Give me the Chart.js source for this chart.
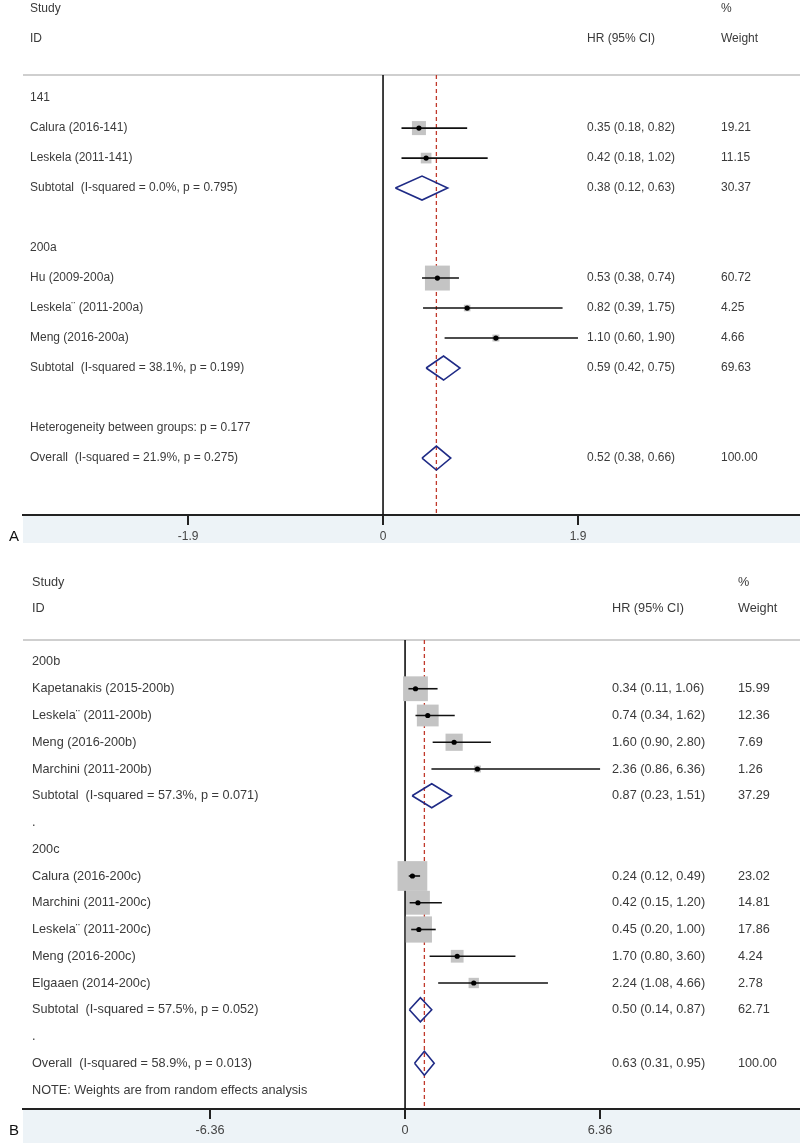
<!DOCTYPE html>
<html>
<head>
<meta charset="utf-8">
<script src="https://cdn.jsdelivr.net/npm/chart.js@4.4.1/dist/chart.umd.min.js"></script>
<style>
  html, body { margin: 0; padding: 0; background: #fff; overflow: hidden; }
  #wrapA { position: absolute; left: 0; top: 0; width: 800px; height: 548px; }
  #wrapB { position: absolute; left: 0; top: 548px; width: 800px; height: 600px; }
</style>
</head>
<body>
<div id="wrapA"><canvas id="chartA"></canvas></div>
<div id="wrapB"><canvas id="chartB"></canvas></div>
<script>
// Panel A data
const rowsA = ['141', 'Calura (2016-141)', 'Leskela (2011-141)', 'Subtotal  (I-squared = 0.0%, p = 0.795)', '',
  '200a', 'Hu (2009-200a)', 'Leskela\u00A8 (2011-200a)', 'Meng (2016-200a)', 'Subtotal  (I-squared = 38.1%, p = 0.199)', '',
  'Heterogeneity between groups: p = 0.177', 'Overall  (I-squared = 21.9%, p = 0.275)'];
const kindA = ['head', 'study', 'study', 'pool', 'blank', 'head', 'study', 'study', 'study', 'pool', 'blank', 'note', 'overall'];
const hrA = [null, 0.35, 0.42, 0.38, null, null, 0.53, 0.82, 1.10, 0.59, null, null, 0.52];
const loA = [null, 0.18, 0.18, 0.12, null, null, 0.38, 0.39, 0.60, 0.42, null, null, 0.38];
const hiA = [null, 0.82, 1.02, 0.63, null, null, 0.74, 1.75, 1.90, 0.75, null, null, 0.66];
const weightA = [null, 19.21, 11.15, 30.37, null, null, 60.72, 4.25, 4.66, 69.63, null, null, 100.00];
const ticksA = [-1.9, 0, 1.9];

// Panel B data
const rowsB = ['200b', 'Kapetanakis (2015-200b)', 'Leskela\u00A8 (2011-200b)', 'Meng (2016-200b)', 'Marchini (2011-200b)',
  'Subtotal  (I-squared = 57.3%, p = 0.071)', '.', '200c', 'Calura (2016-200c)', 'Marchini (2011-200c)',
  'Leskela\u00A8 (2011-200c)', 'Meng (2016-200c)', 'Elgaaen (2014-200c)', 'Subtotal  (I-squared = 57.5%, p = 0.052)', '.',
  'Overall  (I-squared = 58.9%, p = 0.013)', 'NOTE: Weights are from random effects analysis'];
const kindB = ['head', 'study', 'study', 'study', 'study', 'pool', 'dot', 'head', 'study', 'study', 'study', 'study', 'study', 'pool', 'dot', 'overall', 'note'];
const hrB = [null, 0.34, 0.74, 1.60, 2.36, 0.87, null, null, 0.24, 0.42, 0.45, 1.70, 2.24, 0.50, null, 0.63, null];
const loB = [null, 0.11, 0.34, 0.90, 0.86, 0.23, null, null, 0.12, 0.15, 0.20, 0.80, 1.08, 0.14, null, 0.31, null];
const hiB = [null, 1.06, 1.62, 2.80, 6.36, 1.51, null, null, 0.49, 1.20, 1.00, 3.60, 4.66, 0.87, null, 0.95, null];
const weightB = [null, 15.99, 12.36, 7.69, 1.26, 37.29, null, null, 23.02, 14.81, 17.86, 4.24, 2.78, 62.71, null, 100.00, null];
const ticksB = [-6.36, 0, 6.36];

const FONT = '"Liberation Sans", Arial, sans-serif';
const INK = '#3a3a3a';
const NAVY = '#1f2b86';

function fmt(v) { return v.toFixed(2); }

function buildForest(canvasId, p) {
  const datasets = [];
  const boxes = [], boxR = [], dots = [];
  const overall = p.hr[p.kind.indexOf('overall')];

  p.rows.forEach((label, i) => {
    const k = p.kind[i];
    if (k === 'study') {
      boxes.push({ x: p.hr[i], y: i });
      boxR.push(p.boxScale * Math.sqrt(p.weight[i]) / Math.SQRT2);
      dots.push({ x: p.hr[i], y: i });
      datasets.push({
        type: 'line', data: [{ x: p.lo[i], y: i }, { x: p.hi[i], y: i }],
        borderColor: '#111', borderWidth: 1.6, pointRadius: 0, order: 3
      });
    }
    if (k === 'pool' || k === 'overall') {
      const h = p.diamondHalf;
      datasets.push({
        type: 'line',
        data: [{ x: p.lo[i], y: i }, { x: p.hr[i], y: i - h }, { x: p.hi[i], y: i }, { x: p.hr[i], y: i + h }, { x: p.lo[i], y: i }],
        borderColor: NAVY, borderWidth: 1.6, pointRadius: 0, fill: false, order: 2
      });
    }
  });

  datasets.push({
    type: 'scatter', data: boxes, pointStyle: 'rect', pointRadius: boxR,
    backgroundColor: '#c4c4c4', borderWidth: 0, order: 4
  });
  datasets.push({
    type: 'scatter', data: dots, pointStyle: 'circle', pointRadius: 2.6,
    backgroundColor: '#000', borderWidth: 0, order: 1
  });
  // line of no effect and overall estimate
  datasets.push({
    type: 'line', data: [{ x: 0, y: p.yMin }, { x: 0, y: p.yMax }],
    borderColor: '#111', borderWidth: 1.6, pointRadius: 0, order: 6
  });
  datasets.push({
    type: 'line', data: [{ x: overall, y: p.yMin }, { x: overall, y: p.yMax }],
    borderColor: '#c0392b', borderWidth: 1.3, borderDash: [4, 3], pointRadius: 0, order: 5
  });

  const textPlugin = {
    id: 'forestText' + canvasId,
    beforeDraw(chart) {
      const { ctx, chartArea } = chart;
      ctx.save();
      ctx.fillStyle = '#edf3f7';
      ctx.fillRect(chartArea.left, chartArea.bottom, chartArea.right - chartArea.left, p.bandH);
      ctx.strokeStyle = '#cfcfcf';
      ctx.lineWidth = 2;
      ctx.beginPath();
      ctx.moveTo(chartArea.left, chartArea.top);
      ctx.lineTo(chartArea.right, chartArea.top);
      ctx.stroke();
      ctx.restore();
    },
    afterDraw(chart) {
      const { ctx, chartArea } = chart;
      const ys = chart.scales.y;
      ctx.save();
      ctx.font = p.fontSize + 'px ' + FONT;
      ctx.fillStyle = INK;
      ctx.textBaseline = 'middle';
      ctx.textAlign = 'left';
      ctx.fillText('Study', p.leftX, p.head1);
      ctx.fillText('ID', p.leftX, p.head2);
      ctx.fillText('HR (95% CI)', p.hrX, p.head2);
      ctx.fillText('%', p.wX, p.head1);
      ctx.fillText('Weight', p.wX, p.head2);
      p.rows.forEach((label, i) => {
        const y = ys.getPixelForValue(i);
        if (label) ctx.fillText(label, p.leftX, y);
        if (p.hr[i] !== null) {
          ctx.fillText(fmt(p.hr[i]) + ' (' + fmt(p.lo[i]) + ', ' + fmt(p.hi[i]) + ')', p.hrX, y);
          ctx.fillText(fmt(p.weight[i]), p.wX, y);
        }
      });
      ctx.font = '15px ' + FONT;
      ctx.fillStyle = '#111';
      ctx.fillText(p.panel, 9, chartArea.bottom + 22);
      ctx.restore();
    }
  };

  return new Chart(document.getElementById(canvasId), {
    type: 'scatter',
    data: { datasets },
    options: {
      responsive: true,
      maintainAspectRatio: false,
      animation: false,
      events: [],
      layout: { autoPadding: false, padding: { left: 23, top: p.padTop, right: 0, bottom: p.padBottom } },
      plugins: { legend: { display: false }, tooltip: { enabled: false } },
      scales: {
        x: {
          type: 'linear', min: p.xMin, max: p.xMax,
          afterBuildTicks: s => { s.ticks = p.ticks.map(v => ({ value: v })); },
          afterFit: s => { s.height = p.bandH; s.paddingLeft = 0; s.paddingRight = 0; },
          grid: { drawOnChartArea: false, drawTicks: true, tickLength: 10, color: '#222', lineWidth: 2 },
          border: { display: true, color: '#222', width: 2 },
          ticks: { autoSkip: false, maxRotation: 0, padding: 4, color: '#444', font: { family: FONT, size: p.fontSize },
            callback: v => String(v) }
        },
        y: { type: 'linear', reverse: true, min: p.yMin, max: p.yMax, display: false }
      }
    },
    plugins: [textPlugin]
  });
}

buildForest('chartA', {
  panel: 'A', rows: rowsA, kind: kindA, hr: hrA, lo: loA, hi: hiA, weight: weightA, ticks: ticksA,
  xMin: -3.509, xMax: 4.064, yMin: -0.77, yMax: 13.9,
  padTop: 75, padBottom: 5, bandH: 28, fontSize: 12,
  leftX: 30, hrX: 587, wX: 721, head1: 9, head2: 39,
  boxScale: 3.2, diamondHalf: 0.4
});

buildForest('chartB', {
  panel: 'B', rows: rowsB, kind: kindB, hr: hrB, lo: loB, hi: hiB, weight: weightB, ticks: ticksB,
  xMin: -12.46, xMax: 12.88, yMin: -0.822, yMax: 16.71,
  padTop: 92, padBottom: 5, bandH: 34, fontSize: 12.7,
  leftX: 32, hrX: 612, wX: 738, head1: 34, head2: 60,
  boxScale: 6.2, diamondHalf: 0.45
});
</script>
</body>
</html>
